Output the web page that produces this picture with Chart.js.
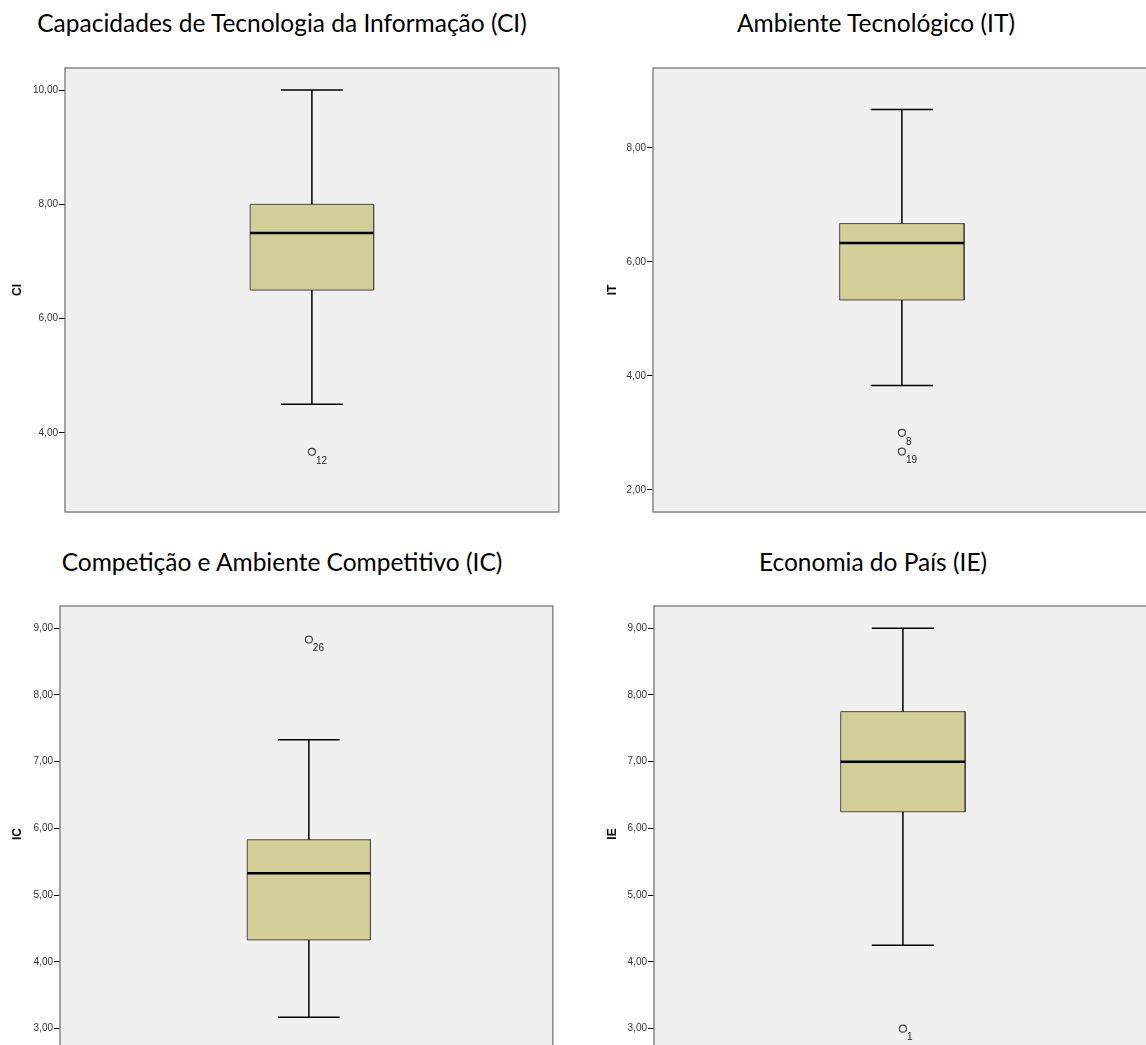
<!DOCTYPE html>
<html>
<head>
<meta charset="utf-8">
<script src="https://cdn.jsdelivr.net/npm/chart.js@4.4.0/dist/chart.umd.min.js"></script>
<style>
  html, body { margin: 0; padding: 0; background: #ffffff; overflow: hidden; }
  .sheet { position: relative; width: 1146px; height: 1045px; overflow: hidden; }
  .panel-title {
    position: absolute; white-space: nowrap; transform: translateX(-50%);
    font-family: Lato, "Open Sans", sans-serif; font-size: 24.5px; line-height: 28px; color: #000;
  }
  canvas { position: absolute; }
</style>
</head>
<body>
<div class="sheet" id="sheet"></div>
<script>
// Box-plot summaries for the four indicators
const panelTitles = [
  'Capacidades de Tecnologia da Informação (CI)',
  'Ambiente Tecnológico (IT)',
  'Competição e Ambiente Competitivo (IC)',
  'Economia do País (IE)'
];
const axisNames   = ['CI', 'IT', 'IC', 'IE'];
const whiskerLow  = [4.50, 3.83, 3.17, 4.25];
const quartile1   = [6.50, 5.33, 4.33, 6.25];
const medians     = [7.50, 6.33, 5.33, 7.00];
const quartile3   = [8.00, 6.67, 5.83, 7.75];
const whiskerHigh = [10.00, 8.67, 7.33, 9.00];
const outlierValues = [[3.67], [3.00, 2.67], [8.83], [3.00]];
const outlierCases  = [['12'], ['8', '19'], ['26'], ['1']];
const tickValues = [
  [4, 6, 8, 10],
  [2, 4, 6, 8],
  [3, 4, 5, 6, 7, 8, 9],
  [3, 4, 5, 6, 7, 8, 9]
];
const axisRanges = [[2.617, 10.385], [1.61, 9.40], [2.5, 9.333], [2.5, 9.333]];

// Page placement of each panel
const frames = [
  { left: 0,   top: 60,  width: 564, height: 460, axisWidth: 65, titlePad: 11, titleX: 282, titleY: 9,   xRange: [-4, 4] },
  { left: 588, top: 60,  width: 568, height: 460, axisWidth: 65, titlePad: 18, titleX: 876, titleY: 9,   xRange: [-4, 4] },
  { left: 0,   top: 598, width: 558, height: 472, axisWidth: 60, titlePad: 11, titleX: 282, titleY: 548, xRange: [-4.04, 3.96] },
  { left: 589, top: 598, width: 568, height: 472, axisWidth: 65, titlePad: 17, titleX: 873, titleY: 548, xRange: [-4, 4] }
];

const BOX_HALF = 1, CAP_HALF = 0.5;

const frameBackground = {
  id: 'frameBackground',
  beforeDraw(chart) {
    const { ctx, chartArea: a } = chart;
    ctx.save();
    ctx.fillStyle = '#f0f0f0';
    ctx.fillRect(a.left, a.top, a.right - a.left, a.bottom - a.top);
    ctx.restore();
  },
  afterDraw(chart) {
    const { ctx, chartArea: a } = chart;
    ctx.save();
    ctx.strokeStyle = '#858585';
    ctx.lineWidth = 1.5;
    ctx.strokeRect(a.left, a.top, a.right - a.left, a.bottom - a.top);
    ctx.restore();
  }
};

const caseLabels = {
  id: 'caseLabels',
  afterDatasetsDraw(chart) {
    const { ctx } = chart;
    chart.data.datasets.forEach((ds, di) => {
      if (!ds.caseIds) return;
      const meta = chart.getDatasetMeta(di);
      ctx.save();
      ctx.font = '10px "Liberation Sans", Arial, sans-serif';
      ctx.fillStyle = '#222';
      ctx.textAlign = 'left';
      ctx.textBaseline = 'middle';
      meta.data.forEach((pt, i) => {
        ctx.fillText(ds.caseIds[i], pt.x + 4, pt.y + 9);
      });
      ctx.restore();
    });
  }
};

const fmt = v => Number(v).toFixed(2).replace('.', ',');
const sheet = document.getElementById('sheet');

frames.forEach((f, i) => {
  const t = document.createElement('div');
  t.className = 'panel-title';
  t.style.left = f.titleX + 'px';
  t.style.top = f.titleY + 'px';
  t.textContent = panelTitles[i];
  sheet.appendChild(t);

  const cv = document.createElement('canvas');
  cv.width = f.width; cv.height = f.height;
  cv.style.left = f.left + 'px'; cv.style.top = f.top + 'px';
  cv.style.width = f.width + 'px'; cv.style.height = f.height + 'px';
  sheet.appendChild(cv);

  const lineSet = (data, width, order) => ({
    type: 'line', data, borderColor: '#000', borderWidth: width,
    pointRadius: 0, fill: false, tension: 0, order
  });

  new Chart(cv.getContext('2d'), {
    type: 'line',
    data: {
      datasets: [
        {
          type: 'scatter',
          data: outlierValues[i].map(v => ({ x: 0, y: v })),
          caseIds: outlierCases[i],
          pointRadius: 3.5, pointBorderWidth: 1.2,
          pointBackgroundColor: 'rgba(0,0,0,0)', pointBorderColor: '#444',
          order: 0
        },
        lineSet([{ x: -BOX_HALF, y: medians[i] }, { x: BOX_HALF, y: medians[i] }], 2.5, 0),
        lineSet([{ x: 0, y: quartile3[i] }, { x: 0, y: whiskerHigh[i] }], 1.5, 1),
        lineSet([{ x: 0, y: whiskerLow[i] }, { x: 0, y: quartile1[i] }], 1.5, 1),
        lineSet([{ x: -CAP_HALF, y: whiskerHigh[i] }, { x: CAP_HALF, y: whiskerHigh[i] }], 1.5, 1),
        lineSet([{ x: -CAP_HALF, y: whiskerLow[i] }, { x: CAP_HALF, y: whiskerLow[i] }], 1.5, 1),
        {
          type: 'line',
          data: [
            { x: -BOX_HALF, y: quartile1[i] }, { x: -BOX_HALF, y: quartile3[i] },
            { x: BOX_HALF, y: quartile3[i] }, { x: BOX_HALF, y: quartile1[i] },
            { x: -BOX_HALF, y: quartile1[i] }
          ],
          borderColor: '#4a4a4a', borderWidth: 1, backgroundColor: '#d3ce97',
          pointRadius: 0, fill: 'shape', tension: 0, order: 2
        }
      ]
    },
    options: {
      responsive: false,
      animation: false,
      events: [],
      layout: { padding: { top: 8, bottom: 8, left: 0, right: 5 } },
      plugins: { legend: { display: false }, tooltip: { enabled: false }, title: { display: false } },
      scales: {
        x: { type: 'linear', min: f.xRange[0], max: f.xRange[1], display: false },
        y: {
          type: 'linear',
          min: axisRanges[i][0], max: axisRanges[i][1],
          afterBuildTicks: s => { s.ticks = tickValues[i].map(v => ({ value: v })); },
          afterFit: s => { s.width = f.axisWidth; },
          border: { display: false },
          grid: { drawOnChartArea: false, drawTicks: true, tickLength: 6, tickColor: '#000', tickWidth: 1 },
          ticks: {
            padding: 1, color: '#333',
            font: { family: '"Liberation Sans", Arial, sans-serif', size: 10 },
            callback: v => fmt(v)
          },
          title: {
            display: true, text: axisNames[i], color: '#000',
            font: { family: '"Liberation Sans", Arial, sans-serif', size: 12, weight: 'bold' },
            padding: { top: f.titlePad - 1, bottom: 0 }
          }
        }
      }
    },
    plugins: [frameBackground, caseLabels]
  });
});
</script>
</body>
</html>
